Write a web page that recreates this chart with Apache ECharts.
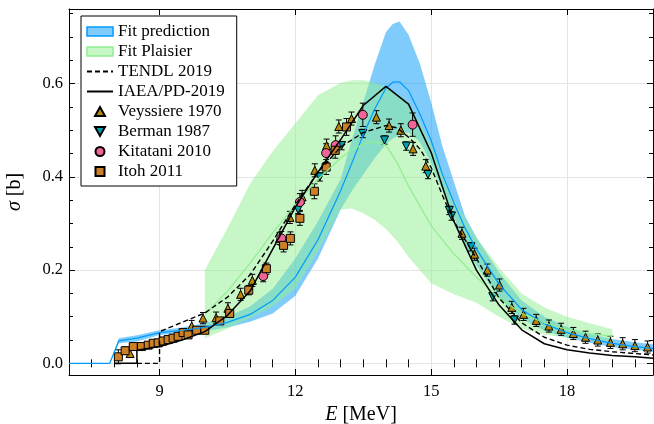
<!DOCTYPE html>
<html>
<head>
<meta charset="utf-8">
<script src="https://cdn.jsdelivr.net/npm/echarts@6/dist/echarts.min.js"></script>
<style>
  html, body { margin: 0; padding: 0; background: #fff; }
  #chart { width: 654px; height: 424px; }
</style>
</head>
<body>
<div id="chart"></div>
<script>
// ---- axis ticks ----
const xMajor = [9, 12, 15, 18];
const xMinor = [7.5, 8, 8.5, 9.5, 10, 10.5, 11, 11.5, 12.5, 13, 13.5, 14, 14.5, 15.5, 16, 16.5, 17, 17.5, 18.5, 19, 19.5];
const yMajor = [0, 0.2, 0.4, 0.6];
const yMinor = [0.05, 0.1, 0.15, 0.25, 0.3, 0.35, 0.45, 0.5, 0.55, 0.65, 0.7, 0.75];

// ---- fit prediction: mean and band ----
const fitE   = [7.0, 7.9, 8.1, 8.5, 9.0, 9.5, 10.0, 10.5, 11.0, 11.5, 12.0, 12.5, 13.0, 13.25, 13.5, 13.75, 14.0, 14.15, 14.3, 14.5, 14.75, 15.0, 15.25, 15.5, 15.75, 16.0, 16.5, 17.0, 17.5, 18.0, 18.5, 19.0, 19.5, 19.9];
const fitMid = [0, 0, 0.048, 0.054, 0.066, 0.071, 0.077, 0.088, 0.105, 0.135, 0.185, 0.265, 0.37, 0.43, 0.49, 0.545, 0.59, 0.603, 0.604, 0.585, 0.535, 0.478, 0.405, 0.345, 0.29, 0.245, 0.17, 0.115, 0.085, 0.066, 0.053, 0.043, 0.036, 0.032];
const fitLo  = [0, 0, 0.043, 0.047, 0.061, 0.065, 0.069, 0.077, 0.089, 0.107, 0.145, 0.225, 0.33, 0.37, 0.405, 0.44, 0.47, 0.482, 0.49, 0.495, 0.475, 0.43, 0.37, 0.315, 0.255, 0.21, 0.14, 0.095, 0.07, 0.055, 0.044, 0.035, 0.029, 0.025];
const fitHi  = [0, 0, 0.054, 0.060, 0.071, 0.077, 0.086, 0.100, 0.122, 0.160, 0.225, 0.305, 0.395, 0.48, 0.56, 0.64, 0.71, 0.728, 0.733, 0.705, 0.643, 0.56, 0.465, 0.39, 0.315, 0.27, 0.195, 0.135, 0.1, 0.078, 0.063, 0.052, 0.045, 0.041];

// ---- Plaisier fit: mean and band ----
const plaE   = [10.0, 10.5, 11.0, 11.5, 12.0, 12.5, 13.0, 13.25, 13.5, 13.75, 14.0, 14.25, 14.5, 15.0, 15.5, 16.0, 16.5, 17.0, 17.5, 18.0, 18.5, 19.0];
const plaMid = [0.105, 0.155, 0.215, 0.28, 0.34, 0.395, 0.44, 0.458, 0.47, 0.476, 0.468, 0.43, 0.38, 0.295, 0.235, 0.185, 0.14, 0.107, 0.087, 0.073, 0.064, 0.058];
const plaLo  = [0.054, 0.074, 0.097, 0.122, 0.16, 0.24, 0.33, 0.332, 0.322, 0.308, 0.288, 0.262, 0.228, 0.172, 0.148, 0.13, 0.1, 0.074, 0.062, 0.055, 0.05, 0.045];
const plaHi  = [0.2, 0.29, 0.385, 0.455, 0.515, 0.575, 0.602, 0.607, 0.607, 0.602, 0.592, 0.578, 0.56, 0.47, 0.35, 0.27, 0.205, 0.15, 0.12, 0.1, 0.086, 0.073];

// ---- evaluated libraries ----
const tendlE = [8.5, 9.0, 9.0, 9.5, 10.0, 10.5, 11.0, 11.5, 12.0, 12.5, 13.0, 13.5, 14.0, 14.25, 14.5, 14.75, 15.0, 15.25, 15.5, 16.0, 16.5, 17.0, 17.5, 18.0, 18.5, 19.0, 19.5, 19.9];
const tendlS = [0, 0, 0.068, 0.088, 0.108, 0.142, 0.19, 0.262, 0.34, 0.41, 0.464, 0.495, 0.51, 0.505, 0.485, 0.46, 0.42, 0.36, 0.305, 0.225, 0.14, 0.087, 0.056, 0.039, 0.03, 0.025, 0.021, 0.018];

const iaeaE = [8.0, 8.5, 8.5, 9.0, 9.5, 10.0, 10.5, 11.0, 11.5, 12.0, 12.5, 13.0, 13.5, 14.0, 14.5, 15.0, 15.5, 16.0, 16.5, 17.0, 17.5, 18.0, 18.5, 19.0, 19.5, 19.9];
const iaeaS = [0, 0, 0.028, 0.036, 0.05, 0.068, 0.103, 0.155, 0.245, 0.335, 0.41, 0.48, 0.553, 0.594, 0.556, 0.452, 0.305, 0.2, 0.125, 0.072, 0.042, 0.029, 0.022, 0.017, 0.014, 0.011];

// ---- measurements ----
const veyE   = [8.35, 9.71, 9.96, 10.25, 10.51, 10.79, 11.05, 11.65, 11.88, 12.15, 12.43, 12.69, 12.96, 13.24, 13.79, 14.07, 14.33, 14.60, 14.88, 15.68, 15.96, 16.24, 16.51, 16.78, 17.04, 17.32, 17.60, 17.87, 18.14, 18.41, 18.68, 18.96, 19.23, 19.50, 19.78];
const veyS   = [0.021, 0.080, 0.097, 0.098, 0.118, 0.148, 0.178, 0.268, 0.313, 0.357, 0.414, 0.467, 0.508, 0.525, 0.528, 0.510, 0.500, 0.460, 0.423, 0.279, 0.234, 0.200, 0.168, 0.120, 0.105, 0.092, 0.080, 0.073, 0.064, 0.056, 0.050, 0.045, 0.042, 0.038, 0.035];
const veyErr = [0.008, 0.012, 0.012, 0.012, 0.012, 0.013, 0.013, 0.013, 0.013, 0.014, 0.014, 0.014, 0.014, 0.014, 0.014, 0.014, 0.014, 0.014, 0.014, 0.013, 0.013, 0.013, 0.013, 0.013, 0.013, 0.013, 0.013, 0.013, 0.013, 0.013, 0.013, 0.013, 0.013, 0.013, 0.013];

const berE   = [12.06, 12.54, 13.02, 13.49, 13.97, 14.45, 14.93, 15.40, 15.45, 15.88, 16.36, 16.84];
const berS   = [0.330, 0.400, 0.467, 0.493, 0.479, 0.466, 0.405, 0.328, 0.316, 0.250, 0.143, 0.093];
const berErr = [0.009, 0.009, 0.009, 0.009, 0.009, 0.009, 0.009, 0.009, 0.009, 0.009, 0.009, 0.009];

const kitE   = [11.29, 11.69, 12.10, 12.68, 12.89, 13.49, 14.59];
const kitS   = [0.187, 0.268, 0.346, 0.451, 0.468, 0.533, 0.512];
const kitErr = [0.012, 0.015, 0.018, 0.020, 0.020, 0.025, 0.025];

const itoE   = [8.09, 8.24, 8.42, 8.60, 8.75, 8.86, 8.97, 9.08, 9.19, 9.30, 9.41, 9.52, 9.63, 9.82, 10.00, 10.33, 10.55, 10.97, 11.36, 11.74, 11.89, 12.10, 12.42, 12.68, 12.88, 13.13];
const itoS   = [0.014, 0.027, 0.036, 0.036, 0.039, 0.043, 0.044, 0.048, 0.051, 0.054, 0.058, 0.066, 0.061, 0.071, 0.071, 0.091, 0.107, 0.157, 0.203, 0.253, 0.268, 0.311, 0.369, 0.421, 0.457, 0.507];
const itoErr = [0.015, 0.008, 0.006, 0.006, 0.005, 0.005, 0.005, 0.005, 0.005, 0.005, 0.005, 0.005, 0.005, 0.006, 0.006, 0.007, 0.008, 0.010, 0.012, 0.014, 0.014, 0.015, 0.016, 0.016, 0.017, 0.018];

const FONT = 'Liberation Serif';
const pairs = (xs, ys) => xs.map((x, i) => [x, ys[i]]);

// filled uncertainty band drawn as one polygon through the axis scales
function band(name, E, lo, hi, fill) {
  return {
    type: 'custom', name, silent: true, clip: true,
    itemStyle: { color: fill },
    data: E.map((e, i) => [e, lo[i], hi[i]]),
    encode: { x: 0, y: [1, 2] },
    renderItem(params, api) {
      if (params.dataIndex !== 0) return;
      const pts = [];
      for (let i = 0; i < E.length; i++) pts.push(api.coord([E[i], hi[i]]));
      for (let i = E.length - 1; i >= 0; i--) pts.push(api.coord([E[i], lo[i]]));
      return { type: 'polygon', shape: { points: pts }, style: { fill: fill } };
    }
  };
}

// vertical error bars with caps
function errorBars(E, S, err) {
  return {
    type: 'custom', silent: true, clip: true,
    data: E.map((e, i) => [e, S[i], err[i]]),
    encode: { x: 0, y: 1 },
    renderItem(params, api) {
      const x = api.value(0), y = api.value(1), d = api.value(2);
      const t = api.coord([x, y + d]), b = api.coord([x, y - d]);
      const c = 3, st = { stroke: '#000', lineWidth: 1 };
      return { type: 'group', children: [
        { type: 'line', shape: { x1: t[0], y1: t[1], x2: b[0], y2: b[1] }, style: st },
        { type: 'line', shape: { x1: t[0] - c, y1: t[1], x2: t[0] + c, y2: t[1] }, style: st },
        { type: 'line', shape: { x1: b[0] - c, y1: b[1], x2: b[0] + c, y2: b[1] }, style: st }
      ]};
    }
  };
}

function markers(name, E, S, symbol, color, size, rotate) {
  return {
    type: 'scatter', name, symbol, symbolSize: size, symbolRotate: rotate || 0,
    data: pairs(E, S),
    itemStyle: { color, borderColor: '#000', borderWidth: 1, opacity: 1 },
    emphasis: { disabled: true }
  };
}

const BLUE_FILL = 'rgba(0,154,250,0.5)';
const GREEN_FILL = 'rgba(144,238,144,0.5)';
const colV = '#b8860b', colB = '#00a3ad', colK = '#f06496', colI = '#cc8026';

// legend glyphs for the measurement markers (kept square inside the legend slot)
const ICON_UP = 'path://M5,0 L10,9 L0,9 Z';
const ICON_DOWN = 'path://M0,0 L10,0 L5,9 Z';
const ICON_CIRCLE = 'path://M10,5 A5,5 0 1,1 0,5 A5,5 0 1,1 10,5 Z';
const ICON_SQUARE = 'path://M0,0 L10,0 L10,10 L0,10 Z';

const gridLine = { show: true, lineStyle: { color: '#e4e4e4', width: 1 } };
const axisBase = (pos, extra) => Object.assign({
  type: 'value', position: pos,
  axisLine: { show: true, onZero: false, lineStyle: { color: '#000', width: 1 } },
  axisLabel: { show: false },
  splitLine: { show: false },
  axisPointer: { show: false }
}, extra);

const xRange = { min: 7, max: 19.9 };
const yRange = { min: -0.025, max: 0.76 };
const tick = (vals, len) => ({ show: true, inside: true, length: len, customValues: vals, lineStyle: { color: '#000', width: 1 } });
const titleStyle = { fontFamily: FONT, fontSize: 20, color: '#000', rich: { i: { fontStyle: 'italic', fontFamily: FONT, fontSize: 20 } } };

const option = {
  animation: false,
  backgroundColor: '#fff',
  grid: { left: 69, top: 9, width: 584, height: 366, containLabel: false, outerBoundsMode: 'none' },
  xAxis: [
    axisBase('bottom', Object.assign({
      name: '{i|E} [MeV]', nameLocation: 'middle', nameGap: 26, nameTextStyle: titleStyle,
      axisTick: tick(xMajor, 6),
      axisLabel: { show: true, customValues: xMajor, margin: 8, fontFamily: FONT, fontSize: 16.5, color: '#000' },
      splitLine: gridLine
    }, xRange)),
    axisBase('bottom', Object.assign({ axisLine: { show: false }, axisTick: tick(xMinor, 4) }, xRange)),
    axisBase('top', Object.assign({ axisTick: tick(xMajor, 6) }, xRange)),
    axisBase('top', Object.assign({ axisLine: { show: false }, axisTick: tick(xMinor, 4) }, xRange))
  ],
  yAxis: [
    axisBase('left', Object.assign({
      name: '{i|σ} [b]', nameLocation: 'middle', nameGap: 44, nameRotate: 90, nameTextStyle: titleStyle,
      axisTick: tick(yMajor, 6),
      axisLabel: { show: true, customValues: yMajor, margin: 6, fontFamily: FONT, fontSize: 16.5, color: '#000',
                   formatter: v => v.toFixed(1) },
      splitLine: gridLine
    }, yRange)),
    axisBase('left', Object.assign({ axisLine: { show: false }, axisTick: tick(yMinor, 4) }, yRange)),
    axisBase('right', Object.assign({ axisTick: tick(yMajor, 6) }, yRange)),
    axisBase('right', Object.assign({ axisLine: { show: false }, axisTick: tick(yMinor, 4) }, yRange))
  ],
  legend: {
    orient: 'vertical', left: 81, top: 16,
    padding: [7, 12, 6, 5], itemGap: 3, itemWidth: 26, itemHeight: 9,
    symbolKeepAspect: true,
    backgroundColor: '#fff', borderColor: '#000', borderWidth: 1, borderRadius: 0,
    selectedMode: false,
    textStyle: { fontFamily: FONT, fontSize: 17, lineHeight: 16, color: '#000' },
    data: [
      { name: 'Fit prediction', icon: 'rect', itemStyle: { color: 'rgb(127,204,252)', borderColor: '#009afa', borderWidth: 1.5 } },
      { name: 'Fit Plaisier', icon: 'rect', itemStyle: { color: 'rgb(199,246,199)', borderColor: '#90ee90', borderWidth: 1.5 } },
      { name: 'TENDL 2019', itemStyle: { opacity: 0 } },
      { name: 'IAEA/PD-2019', itemStyle: { opacity: 0 } },
      { name: 'Veyssiere 1970', icon: ICON_UP },
      { name: 'Berman 1987', icon: ICON_DOWN },
      { name: 'Kitatani 2010', icon: ICON_CIRCLE },
      { name: 'Itoh 2011', icon: ICON_SQUARE }
    ]
  },
  series: [
    band('Fit prediction', fitE, fitLo, fitHi, BLUE_FILL),
    { type: 'line', name: 'fit mean', data: pairs(fitE, fitMid), showSymbol: false, symbol: 'none',
      lineStyle: { color: '#009afa', width: 1.2 }, itemStyle: { color: '#009afa' }, silent: true },
    band('Fit Plaisier', plaE, plaLo, plaHi, GREEN_FILL),
    { type: 'line', name: 'plaisier mean', data: pairs(plaE, plaMid), showSymbol: false, symbol: 'none',
      lineStyle: { color: '#90ee90', width: 1.2 }, itemStyle: { color: '#90ee90' }, silent: true },
    { type: 'line', name: 'TENDL 2019', data: pairs(tendlE, tendlS), showSymbol: false, symbol: 'none',
      lineStyle: { color: '#000', width: 1.4, type: [5, 3] }, itemStyle: { color: '#000' }, silent: true },
    { type: 'line', name: 'IAEA/PD-2019', data: pairs(iaeaE, iaeaS), showSymbol: false, symbol: 'none',
      lineStyle: { color: '#000', width: 1.5 }, itemStyle: { color: '#000' }, silent: true },
    errorBars(veyE, veyS, veyErr),
    markers('Veyssiere 1970', veyE, veyS, 'triangle', colV, 8),
    errorBars(berE, berS, berErr),
    markers('Berman 1987', berE, berS, 'triangle', colB, 8, 180),
    errorBars(kitE, kitS, kitErr),
    markers('Kitatani 2010', kitE, kitS, 'circle', colK, 9),
    errorBars(itoE, itoS, itoErr),
    markers('Itoh 2011', itoE, itoS, 'rect', colI, 8)
  ]
};

const chart = echarts.init(document.getElementById('chart'), null, { renderer: 'canvas' });
chart.setOption(option);
</script>
</body>
</html>
